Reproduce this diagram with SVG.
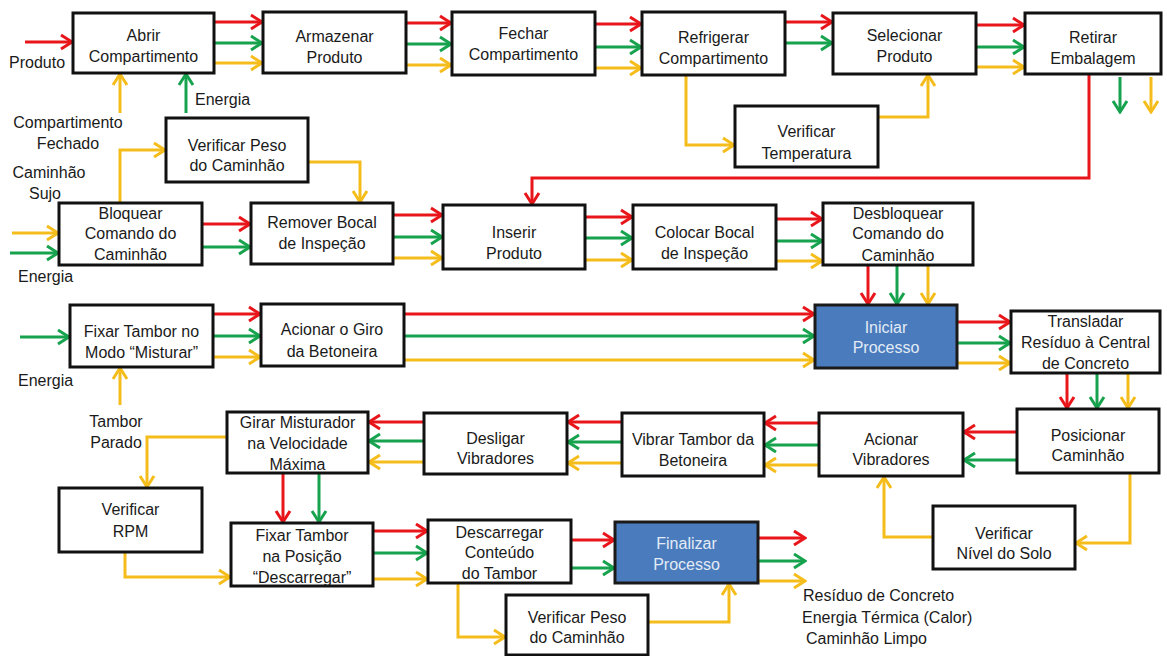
<svg xmlns="http://www.w3.org/2000/svg" width="1167" height="656" viewBox="0 0 1167 656">
<style>
.b{fill:#fff;stroke:#111;stroke-width:3}
.bl{fill:#4a7bbd;stroke:#1a1a1a;stroke-width:3}
text{font-family:"Liberation Sans",Arial,sans-serif;font-size:16px;fill:#1a1a1a}
.c{text-anchor:middle}
.w{fill:#e3ebf5}
.r{stroke:#e8161b;stroke-width:3;fill:none;marker-end:url(#mr)}
.g{stroke:#17a24e;stroke-width:3;fill:none;marker-end:url(#mg)}
.y{stroke:#f5bd1c;stroke-width:3;fill:none;marker-end:url(#my)}
</style>
<defs>
<marker id="mr" markerUnits="userSpaceOnUse" viewBox="-14 -9 16 18" refX="0" refY="0" markerWidth="16" markerHeight="18" orient="auto"><path d="M-11,-7 L0,0 L-11,7" fill="none" stroke="#e8161b" stroke-width="3"/></marker>
<marker id="mg" markerUnits="userSpaceOnUse" viewBox="-14 -9 16 18" refX="0" refY="0" markerWidth="16" markerHeight="18" orient="auto"><path d="M-11,-7 L0,0 L-11,7" fill="none" stroke="#17a24e" stroke-width="3"/></marker>
<marker id="my" markerUnits="userSpaceOnUse" viewBox="-14 -9 16 18" refX="0" refY="0" markerWidth="16" markerHeight="18" orient="auto"><path d="M-11,-7 L0,0 L-11,7" fill="none" stroke="#f5bd1c" stroke-width="3"/></marker>
</defs>
<rect width="1167" height="656" fill="#fff"/>

<g id="connectors">
<path class="r" d="M25,42H72"/>
<path class="r" d="M214,22H262"/><path class="g" d="M214,43H262"/><path class="y" d="M214,63H262"/>
<path class="r" d="M406,23H451"/><path class="g" d="M406,44H451"/><path class="y" d="M406,65H451"/>
<path class="r" d="M595,24H641"/><path class="g" d="M595,47H641"/><path class="y" d="M595,68H641"/>
<path class="r" d="M785,22H832"/><path class="g" d="M785,43H832"/>
<path class="r" d="M976,25H1024"/><path class="g" d="M976,47H1024"/><path class="y" d="M976,67H1024"/>
<path class="g" d="M1120,77V112"/><path class="y" d="M1151,77V112"/>
<path class="r" d="M1089,74V178H532V204"/>
<path class="y" d="M686,75V145H734"/>
<path class="y" d="M878,117H928V75"/>
<path class="y" d="M120,113V74"/><path class="g" d="M186,113V74"/>
<path class="y" d="M120,203V150H165"/>
<path class="y" d="M308,162H360V202"/>

<path class="y" d="M12,233H58"/><path class="g" d="M10,253H58"/>
<path class="r" d="M202,224H250"/><path class="g" d="M202,247H250"/>
<path class="r" d="M393,215H442"/><path class="g" d="M393,237H442"/><path class="y" d="M393,258H442"/>
<path class="r" d="M585,217H632"/><path class="g" d="M585,238H632"/><path class="y" d="M585,260H632"/>
<path class="r" d="M776,219H822"/><path class="g" d="M776,241H822"/><path class="y" d="M776,261H822"/>
<path class="r" d="M868,265V304"/><path class="g" d="M897,265V304"/><path class="y" d="M928,265V304"/>

<path class="g" d="M20,337H69"/>
<path class="y" d="M120,405V368"/>
<path class="r" d="M213,314H260"/><path class="g" d="M213,336H260"/><path class="y" d="M213,357H260"/>
<path class="r" d="M404,314H814"/><path class="g" d="M404,336H814"/><path class="y" d="M404,360H814"/>
<path class="r" d="M957,322H1010"/><path class="g" d="M957,343H1010"/><path class="y" d="M957,363H1010"/>
<path class="r" d="M1067,373V408"/><path class="g" d="M1097,373V408"/><path class="y" d="M1128,373V408"/>

<path class="r" d="M1017,432H964"/><path class="g" d="M1017,460H964"/>
<path class="y" d="M1130,473V543H1076"/>
<path class="y" d="M933,537H884V477"/>
<path class="r" d="M819,423H765"/><path class="g" d="M819,445H765"/><path class="y" d="M819,465H765"/>
<path class="r" d="M622,422H568"/><path class="g" d="M622,442H568"/><path class="y" d="M622,463H568"/>
<path class="r" d="M424,422H369"/><path class="g" d="M424,441H369"/><path class="y" d="M424,462H369"/>
<path class="y" d="M227,437H147V487"/>
<path class="r" d="M283,473V522"/><path class="g" d="M319,473V522"/>
<path class="y" d="M125,552V577H230"/>
<path class="r" d="M373,531H427"/><path class="g" d="M373,553H427"/><path class="y" d="M373,579H427"/>
<path class="r" d="M566,540H614"/><path class="g" d="M566,568H614"/>
<path class="y" d="M458,583V637H505"/>
<path class="y" d="M648,622H729V584"/>
<path class="r" d="M758,538H805"/><path class="g" d="M758,561H805"/><path class="y" d="M758,581H805"/>
</g>

<g id="n1"><rect class="b" x="73" y="13" width="141" height="60"/><text class="c" x="143.5" y="41">Abrir</text><text class="c" x="143.5" y="62">Compartimento</text></g>
<g id="n2"><rect class="b" x="263" y="12" width="143" height="61"/><text class="c" x="334.5" y="42">Armazenar</text><text class="c" x="334.5" y="63">Produto</text></g>
<g id="n3"><rect class="b" x="452" y="12" width="143" height="63"/><text class="c" x="523.5" y="39">Fechar</text><text class="c" x="523.5" y="60">Compartimento</text></g>
<g id="n4"><rect class="b" x="642" y="12" width="143" height="63"/><text class="c" x="713.5" y="43">Refrigerar</text><text class="c" x="713.5" y="64">Compartimento</text></g>
<g id="n5"><rect class="b" x="833" y="13" width="143" height="61"/><text class="c" x="904.5" y="41">Selecionar</text><text class="c" x="904.5" y="62">Produto</text></g>
<g id="n6"><rect class="b" x="1025" y="13" width="136" height="61"/><text class="c" x="1093" y="43">Retirar</text><text class="c" x="1093" y="64">Embalagem</text></g>
<g id="n7"><rect class="b" x="735" y="106" width="143" height="61"/><text class="c" x="806.5" y="137">Verificar</text><text class="c" x="806.5" y="159">Temperatura</text></g>
<g id="n8"><rect class="b" x="166" y="118" width="142" height="64"/><text class="c" x="237" y="151">Verificar Peso</text><text class="c" x="237" y="171">do Caminhão</text></g>
<g id="n9"><rect class="b" x="59" y="203" width="143" height="62"/><text class="c" x="130.5" y="219">Bloquear</text><text class="c" x="130.5" y="239">Comando do</text><text class="c" x="130.5" y="260">Caminhão</text></g>
<g id="n10"><rect class="b" x="251" y="203" width="142" height="61"/><text class="c" x="322" y="228">Remover Bocal</text><text class="c" x="322" y="249">de Inspeção</text></g>
<g id="n11"><rect class="b" x="443" y="205" width="142" height="64"/><text class="c" x="514" y="238">Inserir</text><text class="c" x="514" y="259">Produto</text></g>
<g id="n12"><rect class="b" x="633" y="205" width="143" height="64"/><text class="c" x="704.5" y="238">Colocar Bocal</text><text class="c" x="704.5" y="259">de Inspeção</text></g>
<g id="n13"><rect class="b" x="823" y="203" width="150" height="62"/><text class="c" x="898" y="219">Desbloquear</text><text class="c" x="898" y="239">Comando do</text><text class="c" x="898" y="261">Caminhão</text></g>
<g id="n14"><rect class="b" x="70" y="305" width="143" height="62"/><text class="c" x="141.5" y="337">Fixar Tambor no</text><text class="c" x="141.5" y="358">Modo “Misturar”</text></g>
<g id="n15"><rect class="b" x="261" y="304" width="143" height="62"/><text class="c" x="332" y="335">Acionar o Giro</text><text class="c" x="332" y="357">da Betoneira</text></g>
<g id="n16"><rect class="bl" x="815" y="305" width="142" height="63"/><text class="c w" x="886" y="333">Iniciar</text><text class="c w" x="886" y="353">Processo</text></g>
<g id="n17"><rect class="b" x="1011" y="311" width="149" height="62"/><text class="c" x="1085.5" y="327">Transladar</text><text class="c" x="1085.5" y="348">Resíduo à Central</text><text class="c" x="1085.5" y="369">de Concreto</text></g>
<g id="n18"><rect class="b" x="1017" y="409" width="142" height="64"/><text class="c" x="1088" y="441">Posicionar</text><text class="c" x="1088" y="461">Caminhão</text></g>
<g id="n19"><rect class="b" x="819" y="413" width="144" height="63"/><text class="c" x="891" y="445">Acionar</text><text class="c" x="891" y="465">Vibradores</text></g>
<g id="n20"><rect class="b" x="933" y="506" width="142" height="63"/><text class="c" x="1004" y="539">Verificar</text><text class="c" x="1004" y="559">Nível do Solo</text></g>
<g id="n21"><rect class="b" x="622" y="413" width="142" height="63"/><text class="c" x="693" y="445">Vibrar Tambor da</text><text class="c" x="693" y="466">Betoneira</text></g>
<g id="n22"><rect class="b" x="424" y="413" width="143" height="61"/><text class="c" x="495.5" y="444">Desligar</text><text class="c" x="495.5" y="464">Vibradores</text></g>
<g id="n23"><rect class="b" x="227" y="412" width="141" height="61"/><text class="c" x="297.5" y="428">Girar Misturador</text><text class="c" x="297.5" y="449">na Velocidade</text><text class="c" x="297.5" y="470">Máxima</text></g>
<g id="n24"><rect class="b" x="59" y="488" width="143" height="64"/><text class="c" x="130.5" y="515">Verificar</text><text class="c" x="130.5" y="537">RPM</text></g>
<g id="n25"><rect class="b" x="231" y="523" width="142" height="63"/><text class="c" x="302" y="541">Fixar Tambor</text><text class="c" x="302" y="562">na Posição</text><text class="c" x="302" y="583">“Descarregar”</text></g>
<g id="n26"><rect class="b" x="428" y="520" width="143" height="63"/><text class="c" x="499.5" y="538">Descarregar</text><text class="c" x="499.5" y="558">Conteúdo</text><text class="c" x="499.5" y="579">do Tambor</text></g>
<g id="n27"><rect class="bl" x="615" y="522" width="143" height="61"/><text class="c w" x="686.5" y="549">Finalizar</text><text class="c w" x="686.5" y="570">Processo</text></g>
<g id="n28"><rect class="b" x="506" y="595" width="142" height="60"/><text class="c" x="577" y="623">Verificar Peso</text><text class="c" x="577" y="643">do Caminhão</text></g>

<g id="labels">
<text x="9" y="68">Produto</text>
<text x="195" y="105">Energia</text>
<text class="c" x="68" y="128">Compartimento</text>
<text class="c" x="68" y="149">Fechado</text>
<text class="c" x="49" y="178">Caminhão</text>
<text class="c" x="45" y="199">Sujo</text>
<text x="18" y="282">Energia</text>
<text x="18" y="386">Energia</text>
<text class="c" x="116" y="427">Tambor</text>
<text class="c" x="116" y="448">Parado</text>
<text x="803" y="601">Resíduo de Concreto</text>
<text x="802" y="623">Energia Térmica (Calor)</text>
<text x="806" y="644">Caminhão Limpo</text>
</g>
</svg>
